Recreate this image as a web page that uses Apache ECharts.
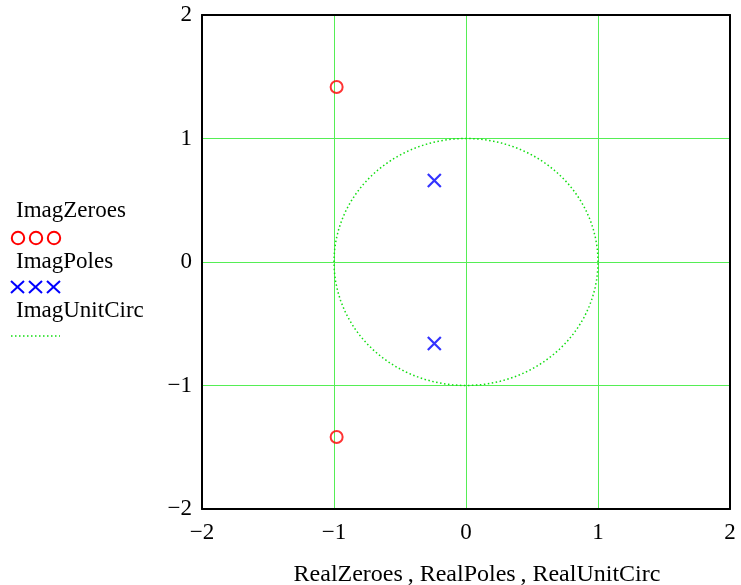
<!DOCTYPE html>
<html><head><meta charset="utf-8">
<script src="https://cdn.jsdelivr.net/npm/echarts@6/dist/echarts.min.js"></script>
<style>html,body{margin:0;padding:0;background:#fff}#c{width:741px;height:585px}</style>
</head><body><div id="c"></div>
<script>
// Data
const realZeroes = [-0.98, -0.98];
const imagZeroes = [1.417, -1.417];
const realPoles = [-0.24, -0.24];
const imagPoles = [0.66, -0.66];
const legendNames = ['ImagZeroes', 'ImagPoles', 'ImagUnitCirc'];
const xTitle = 'RealZeroes\u2009, RealPoles\u2009, RealUnitCirc';
// unit circle (the definition of RealUnitCirc / ImagUnitCirc)
const circleSteps = 120;
const realUnitCirc = [], imagUnitCirc = [];
for (let i = 0; i <= circleSteps; i++) {
  const t = 2 * Math.PI * i / circleSteps;
  realUnitCirc.push(Math.cos(t));
  imagUnitCirc.push(Math.sin(t));
}

const font = '"Liberation Serif", "DejaVu Serif", serif';
const fmt = v => (v < 0 ? '\u2212' + Math.abs(v) : String(v));
const green = '#55ee55';
const dotGreen = '#11dd11';
const chart = echarts.init(document.getElementById('c'), null, {renderer: 'canvas'});
const crossPath = 'path://M0,0L10,10M10,0L0,10';

const axisCommon = {min: -2, max: 2, interval: 1, type: 'value'};
const edgeAxis = {
  axisLine: {show: true, onZero: false, lineStyle: {color: '#000', width: 2}},
  axisTick: {show: false}, axisLabel: {show: false}, splitLine: {show: false}
};
chart.setOption({
  animation: false,
  grid: {left: 202, right: 11, top: 15, bottom: 76, containLabel: false, outerBoundsMode: 'none'},
  xAxis: [
    Object.assign({}, axisCommon, {
      position: 'bottom',
      axisLine: {show: true, onZero: false, lineStyle: {color: '#000', width: 2}},
      axisTick: {show: false},
      axisLabel: {formatter: fmt, color: '#000', fontFamily: font, fontSize: 23, margin: 12},
      splitLine: {show: true, lineStyle: {color: green, width: 1}},
      name: xTitle, nameLocation: 'middle', nameGap: 54,
      nameTextStyle: {color: '#000', fontFamily: font, fontSize: 24, padding: [0, 0, 0, 22]}
    }),
    Object.assign({}, axisCommon, edgeAxis, {position: 'top'})
  ],
  yAxis: [
    Object.assign({}, axisCommon, {
      position: 'left',
      axisLine: {show: true, onZero: false, lineStyle: {color: '#000', width: 2}},
      axisTick: {show: false},
      axisLabel: {formatter: fmt, color: '#000', fontFamily: font, fontSize: 23, margin: 10},
      splitLine: {show: true, lineStyle: {color: green, width: 1}}
    }),
    Object.assign({}, axisCommon, edgeAxis, {position: 'right'})
  ],
  series: [
    {
      name: legendNames[2], type: 'line', symbol: 'none', z: 3,
      data: realUnitCirc.map((x, i) => [x, imagUnitCirc[i]]),
      lineStyle: {color: dotGreen, width: 1.5, type: [1.5, 2.5]}
    },
    {
      name: legendNames[0], type: 'scatter', symbol: 'circle', symbolSize: 12, z: 4,
      data: realZeroes.map((x, i) => [x, imagZeroes[i]]),
      itemStyle: {color: 'rgba(0,0,0,0)', borderColor: '#ff0000', borderWidth: 2}
    },
    {
      name: legendNames[1], type: 'scatter', symbol: crossPath, symbolSize: 13, z: 4,
      data: realPoles.map((x, i) => [x, imagPoles[i]]),
      itemStyle: {color: 'rgba(0,0,0,0)', borderColor: '#0000ff', borderWidth: 2.2}
    }
  ],
  graphic: [
    {type: 'text', x: 16, y: 211, style: {text: legendNames[0], font: '23px ' + font, fill: '#000', verticalAlign: 'middle'}},
    {type: 'circle', shape: {cx: 18, cy: 238, r: 6.2}, style: {fill: 'none', stroke: '#ff0000', lineWidth: 2}},
    {type: 'circle', shape: {cx: 36, cy: 238, r: 6.2}, style: {fill: 'none', stroke: '#ff0000', lineWidth: 2}},
    {type: 'circle', shape: {cx: 54, cy: 238, r: 6.2}, style: {fill: 'none', stroke: '#ff0000', lineWidth: 2}},
    {type: 'text', x: 16, y: 262, style: {text: legendNames[1], font: '23px ' + font, fill: '#000', verticalAlign: 'middle'}},
    {type: 'polyline', shape: {points: [[11, 281], [24, 293]]}, style: {stroke: '#0000ff', lineWidth: 2}},
    {type: 'polyline', shape: {points: [[11, 293], [24, 281]]}, style: {stroke: '#0000ff', lineWidth: 2}},
    {type: 'polyline', shape: {points: [[29, 281], [42, 293]]}, style: {stroke: '#0000ff', lineWidth: 2}},
    {type: 'polyline', shape: {points: [[29, 293], [42, 281]]}, style: {stroke: '#0000ff', lineWidth: 2}},
    {type: 'polyline', shape: {points: [[47, 281], [60, 293]]}, style: {stroke: '#0000ff', lineWidth: 2}},
    {type: 'polyline', shape: {points: [[47, 293], [60, 281]]}, style: {stroke: '#0000ff', lineWidth: 2}},
    {type: 'text', x: 16, y: 311, style: {text: legendNames[2], font: '23px ' + font, fill: '#000', verticalAlign: 'middle'}},
    {type: 'line', shape: {x1: 11, y1: 336, x2: 60, y2: 336}, style: {stroke: dotGreen, lineWidth: 1.5, lineDash: [1.5, 2.5]}}
  ]
});
</script>
</body></html>
